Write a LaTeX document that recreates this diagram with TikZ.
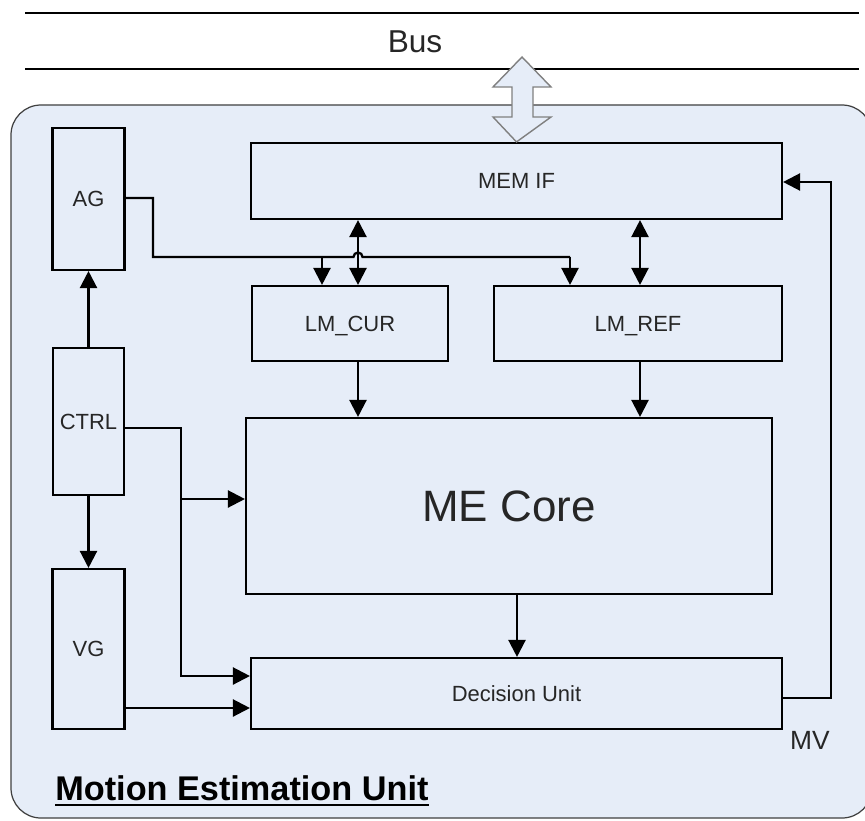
\documentclass[tikz,border=0pt]{standalone}
\usepackage{fontspec}
\setmainfont{Liberation Sans}
\usetikzlibrary{calc, arrows.meta}
\definecolor{unitfill}{RGB}{230,237,248}
\definecolor{edgegray}{RGB}{64,64,64}
\definecolor{txtgray}{RGB}{38,38,38}
\tikzset{
  blk/.style={draw=black, line width=1.2pt, inner sep=0pt, text depth=0pt, text=txtgray,
    font=\fontsize{12.5}{15}\selectfont},
  sig/.style={line width=1.3pt, -{Triangle[length=0.34cm,width=0.34cm]}},
  bisig/.style={line width=1.3pt, {Triangle[length=0.34cm,width=0.34cm]}-{Triangle[length=0.34cm,width=0.34cm]}},
  wire/.style={line width=1.3pt}
}
\begin{document}
\begin{tikzpicture}
  \useasboundingbox (0,0) rectangle (17.3,-16.4);
  % bus
  \draw[line width=1.1pt] (0.5,-0.26) -- (17.18,-0.26);
  \draw[line width=1.1pt] (0.5,-1.38) -- (17.18,-1.38);
  \node[text=txtgray, font=\fontsize{18}{21}\selectfont] (bus) at (8.3,-0.84) {Bus};
  % unit frame
  \draw[draw=edgegray, fill=unitfill, line width=0.7pt, rounded corners=0.6cm] (0.22,-2.1) rectangle (17.44,-16.36);

  \node[blk, minimum width=1.44cm, minimum height=2.84cm] (ag) at (1.77,-3.98) {AG};
  \node[blk, minimum width=1.42cm, minimum height=2.94cm] (ctrl) at (1.77,-8.43) {CTRL};
  \node[blk, minimum width=1.44cm, minimum height=3.2cm] (vg) at (1.77,-12.98) {VG};
  \node[blk, minimum width=10.62cm, minimum height=1.52cm] (memif) at (10.33,-3.62) {MEM IF};
  \node[blk, minimum width=3.92cm, minimum height=1.5cm] (lmcur) at (7.0,-6.47) {LM\_CUR};
  \node[blk, minimum width=5.76cm, minimum height=1.5cm] (lmref) at (12.76,-6.47) {LM\_REF};
  \node[blk, minimum width=10.52cm, minimum height=3.52cm, font=\fontsize{25}{30}\selectfont] (core) at (10.18,-10.12) {ME Core};
  \node[blk, minimum width=10.62cm, minimum height=1.42cm] (du) at (10.33,-13.87) {Decision Unit};

  \coordinate (ctrlout) at (3.62,-8.56);
  \coordinate (ctrlmid) at (3.62,-9.98);
  \coordinate (ctrllow) at (3.62,-13.52);
  \coordinate (vgout) at (3.62,-14.16);
  \coordinate (agbend) at (3.06,-3.96);
  \coordinate (agrow) at (3.06,-5.14);
  \coordinate (curdrop) at (6.44,-5.14);
  \coordinate (hop) at (7.16,-5.14);
  \coordinate (refdrop) at (11.4,-5.14);
  \coordinate (refbus) at (12.8,-5.14);
  \coordinate (coreout) at (10.34,-12.5);
  \coordinate (mvup) at (16.62,-13.96);
  \coordinate (mvtop) at (16.62,-3.64);

  \draw[sig] (ctrl.north) -- (ag.south);
  \draw[sig] (ctrl.south) -- (vg.north);
  \draw[sig] (ctrl.east |- ctrlout) -- (ctrlout) -- (ctrllow) -- (ctrllow -| du.west);
  \draw[sig] (ctrlmid) -- (ctrlmid -| core.west);
  \draw[sig] (vg.east |- vgout) -- (vgout -| du.west);

  \draw[wire] (ag.east |- agbend) -- (agbend) -- (agrow) -- ([xshift=-0.09cm]hop) arc (180:0:0.09cm) -- (refdrop);
  \draw[sig] (curdrop) -- (curdrop |- lmcur.north);
  \draw[sig] (refdrop) -- (refdrop |- lmref.north);

  \draw[bisig] (hop |- memif.south) -- (hop |- lmcur.north);
  \draw[bisig] (refbus |- memif.south) -- (refbus |- lmref.north);
  \draw[sig] (hop |- lmcur.south) -- (hop |- core.north);
  \draw[sig] (refbus |- lmref.south) -- (refbus |- core.north);
  \draw[sig] (coreout |- core.south) -- (coreout |- du.north);
  \draw[sig] (du.east |- mvup) -- (mvup) -- (mvtop) -- (mvtop -| memif.east);

  % bus access arrow
  \draw[draw=gray, fill=unitfill, line width=0.8pt] (10.44,-1.14) -- (11.02,-1.74) -- (10.66,-1.74) -- (10.66,-2.34)
    -- (11.02,-2.34) -- (memif.north) -- (9.86,-2.34) -- (10.24,-2.34) -- (10.24,-1.74) -- (9.86,-1.74) -- cycle;

  \node[text=txtgray, font=\fontsize{15}{18}\selectfont] (mv) at (16.2,-14.8) {MV};
  \node[anchor=base west, inner sep=0pt, font=\bfseries\fontsize{19.5}{23}\selectfont] (title) at (1.1,-16.0) {Motion Estimation Unit};
  \draw[line width=1.4pt] ([yshift=-0.1cm]title.base west) -- ([yshift=-0.1cm]title.base east);
\end{tikzpicture}
\end{document}
